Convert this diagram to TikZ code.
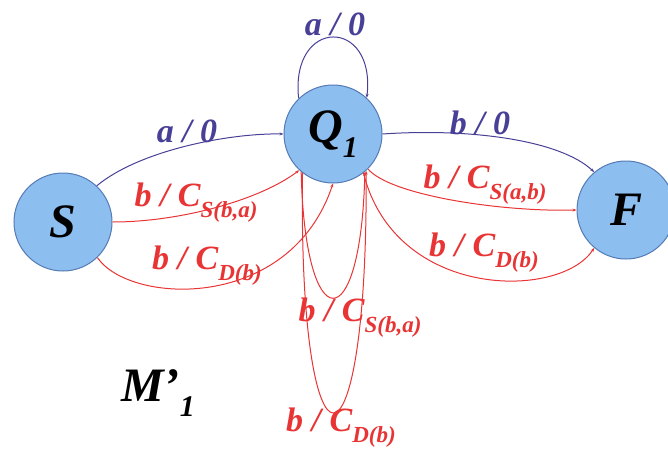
\documentclass[tikz,border=0pt]{standalone}
\usepackage{fontspec}
\setmainfont{Liberation Serif}
\usetikzlibrary{arrows.meta}
\definecolor{edgeblue}{RGB}{72,64,150}
\definecolor{edgered}{RGB}{232,52,52}
\definecolor{stfill}{RGB}{140,190,240}
\definecolor{stdraw}{RGB}{84,122,180}
\newcommand{\lsub}[1]{\raisebox{-0.32em}{\fontsize{23}{24}\selectfont #1}}
\newcommand{\nsub}[1]{\raisebox{-0.3em}{\fontsize{30}{32}\selectfont #1}}
\tikzset{
  state/.style={circle, fill=stfill, draw=stdraw, line width=1pt, minimum size=98pt, inner sep=0pt,
    font=\fontsize{48}{50}\selectfont\bfseries\itshape},
  lbl/.style={inner sep=0pt, font=\fontsize{34}{36}\selectfont\bfseries\itshape},
  blueedge/.style={draw=edgeblue, line width=1pt, -{Stealth[length=4pt,width=3pt]}},
  rededge/.style={draw=edgered, line width=1pt, -{Stealth[length=4pt,width=3pt]}},
}
\begin{document}
\begin{tikzpicture}[x=1pt,y=-1pt]
\useasboundingbox (0,0) rectangle (668,452);
\node[state] (S) at (63,222) {S};
\node[state] (Q) at (333,134) {Q\nsub{1}};
\node[state] (F) at (626,210) {F};

% blue edges
\draw[blueedge] (S.47) .. controls (140,150) and (230,133) .. (Q.180);
\draw[blueedge] (Q.134) .. controls (290,17) and (376,17) .. (Q.47);
\draw[blueedge] (Q.0) .. controls (470,128) and (560,140) .. (F.130);

% red edges S - Q1
\draw[rededge] (S.0) .. controls (180,222) and (260,200) .. (Q.227);
\draw[rededge] (S.-46) .. controls (130,305) and (290,312) .. (Q.270);
% red edges Q1 - F
\draw[rededge] (Q.-45) .. controls (390,195) and (500,212) .. (F.180);
\draw[rededge] (Q.-52) .. controls (395,300) and (560,300) .. (F.230);
% red loops
\draw[rededge] (Q.230) .. controls (305,340) and (361,340) .. (Q.-50);
\draw[rededge] (Q.232) .. controls (298,493) and (368,493) .. (Q.-48);

% labels
\node[lbl, text=edgeblue] (la1) at (187,131) {a / 0};
\node[lbl, text=edgeblue] (la2) at (335,24) {a / 0};
\node[lbl, text=edgeblue] (lb1) at (480,123) {b / 0};
\node[lbl, text=edgered] (lr1) at (196,203) {b / C\lsub{S(b,a)}};
\node[lbl, text=edgered] (lr2) at (207,266) {b / C\lsub{D(b)}};
\node[lbl, text=edgered] (lr3) at (485,185) {b / C\lsub{S(a,b)}};
\node[lbl, text=edgered] (lr4) at (484,253) {b / C\lsub{D(b)}};
\node[lbl, text=edgered] (lr5) at (360,318) {b / C\lsub{S(b,a)}};
\node[lbl, text=edgered] (lr6) at (341,428) {b / C\lsub{D(b)}};
\node[lbl, font=\fontsize{48}{50}\selectfont\bfseries\itshape] (M) at (158,393) {M’\nsub{1}};
\end{tikzpicture}
\end{document}
